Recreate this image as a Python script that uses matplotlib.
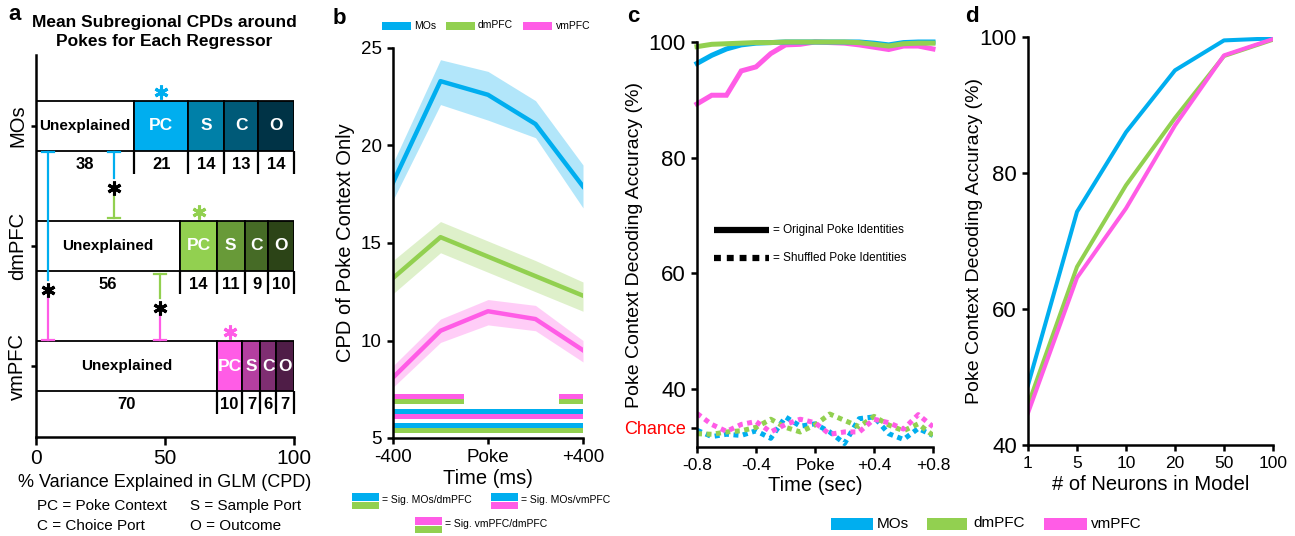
import matplotlib
matplotlib.use("Agg")
from matplotlib import pyplot as plt
from matplotlib.patches import Rectangle

plt.rcParams['font.family'] = ['Liberation Sans', 'DejaVu Sans']

BLUE = '#00AEEF'
GREEN = '#92D050'
PINK = '#FF5CE6'

# ---------------- panel a: mean CPD per regressor ----------------
regions = ['MOs', 'dmPFC', 'vmPFC']
regressors = ['Unexplained', 'PC', 'S', 'C', 'O']
cpd_mos = [38, 21, 14, 13, 14]
cpd_dmpfc = [56, 14, 11, 9, 10]
cpd_vmpfc = [70, 10, 7, 6, 7]
mos_colors = ['white', '#00AEEF', '#0080A8', '#005A78', '#003346']
dmpfc_colors = ['white', '#92D050', '#689A38', '#466B26', '#2C4417']
vmpfc_colors = ['white', '#FF5CE6', '#B43FA0', '#7F2E72', '#4F1D47']

# ---------------- panel b: CPD of poke context over time ----------------
cpd_time = [-400, -200, 0, 200, 400]
mos_cpd = [18.1, 23.3, 22.6, 21.1, 17.9]
mos_cpd_lo = [17.2, 22.1, 21.3, 20.4, 16.8]
mos_cpd_hi = [19.1, 24.4, 23.8, 22.3, 19.0]
dmpfc_cpd = [13.2, 15.3, 14.3, 13.3, 12.3]
dmpfc_cpd_lo = [12.4, 14.5, 13.5, 12.5, 11.5]
dmpfc_cpd_hi = [14.1, 16.1, 15.1, 14.1, 13.0]
vmpfc_cpd = [8.1, 10.5, 11.5, 11.1, 9.5]
vmpfc_cpd_lo = [7.6, 9.9, 10.8, 10.5, 8.9]
vmpfc_cpd_hi = [8.7, 11.1, 12.1, 11.8, 10.0]

# significance stripes (upper colour, lower colour, level, spans)
sig_names = ['vmPFC/dmPFC', 'MOs/vmPFC', 'MOs/dmPFC']
sig_upper = [PINK, BLUE, BLUE]
sig_lower = [GREEN, PINK, GREEN]
sig_level = [7.0, 6.25, 5.5]
sig_spans = [[(-400, -100), (300, 400)], [(-400, 400)], [(-400, 400)]]

# ---------------- panel c: decoding accuracy over time ----------------
dec_time = [-0.8, -0.7, -0.6, -0.5, -0.4, -0.3, -0.2, -0.1, 0.0,
            0.1, 0.2, 0.3, 0.4, 0.5, 0.6, 0.7, 0.8]
mos_acc = [96.3, 97.7, 98.8, 99.5, 99.8, 99.9, 100, 100, 100,
           100, 100, 100, 99.8, 99.5, 99.9, 100, 100]
dmpfc_acc = [99.2, 99.6, 99.7, 99.8, 99.9, 99.9, 100, 100, 100,
             100, 100, 99.9, 99.6, 99.3, 99.7, 99.8, 99.8]
vmpfc_acc = [89.3, 90.8, 90.8, 95.0, 95.7, 98.0, 99.5, 99.6, 100,
             99.9, 99.8, 99.5, 99.1, 98.7, 99.3, 99.3, 98.8]
mos_shuf = [32.9, 31.8, 32.2, 32.0, 32.8, 31.5, 35.2, 33.6, 34.0,
            32.6, 30.6, 34.9, 35.2, 32.3, 31.3, 33.2, 32.0]
dmpfc_shuf = [32.3, 32.2, 32.6, 32.8, 33.4, 34.8, 33.4, 32.6, 33.8,
              35.7, 34.6, 33.5, 35.3, 33.8, 32.8, 34.0, 32.0]
vmpfc_shuf = [35.8, 33.9, 32.7, 33.9, 34.4, 32.6, 33.9, 34.8, 34.2,
              32.2, 32.6, 32.6, 34.8, 34.2, 33.1, 35.6, 33.5]
chance = 100 / 3

# ---------------- panel d: accuracy vs number of neurons ----------------
n_neurons = ['1', '5', '10', '20', '50', '100']
mos_n_acc = [48.8, 74.3, 86.0, 95.1, 99.5, 99.8]
dmpfc_n_acc = [45.9, 66.2, 78.2, 88.1, 97.2, 99.6]
vmpfc_n_acc = [44.7, 64.6, 74.8, 87.0, 97.3, 99.7]

W, H = 1295, 536


def box(x0, x1, y_top, y_bot):
    return [x0 / W, 1 - y_bot / H, (x1 - x0) / W, (y_bot - y_top) / H]


def swatch(x0, x1, y_top, y_bot, color):
    fig.add_artist(Rectangle((x0 / W, 1 - y_bot / H), (x1 - x0) / W, (y_bot - y_top) / H,
                             transform=fig.transFigure, color=color, lw=0))


def ftext(x, y, s, **kw):
    fig.text(x / W, 1 - y / H, s, **kw)


def style_axes(ax):
    for side in ['top', 'right']:
        ax.spines[side].set_visible(False)
    for side in ['left', 'bottom']:
        ax.spines[side].set_linewidth(1.8)
    ax.tick_params(width=1.8, length=4.5, color='black')


fig = plt.figure(figsize=(W / 100, H / 100), dpi=100)

# ================= panel a =================
ax = fig.add_axes(box(36, 294, 55, 437))
style_axes(ax)
ypos = [2.59, 1.59, 0.59]
bh = 0.42
for name, y, vals, cols, rc in zip(regions, ypos, [cpd_mos, cpd_dmpfc, cpd_vmpfc],
                                    [mos_colors, dmpfc_colors, vmpfc_colors],
                                    [BLUE, GREEN, PINK]):
    left = 0
    for reg, v, c in zip(regressors, vals, cols):
        ax.barh(y, v, left=left, height=bh, color=c, edgecolor='black', linewidth=1.3)
        if reg == 'Unexplained':
            ax.text(left + v / 2, y, reg, ha='center', va='center', fontsize=11,
                    fontweight='bold', color='black')
        else:
            ax.text(left + v / 2, y, reg, ha='center', va='center', fontsize=12.5,
                    fontweight='bold', color='white')
        ax.text(left + v / 2, y - bh / 2 - 0.11, str(v), ha='center', va='center',
                fontsize=12, fontweight='bold')
        left += v
        ax.plot([left, left], [y - bh / 2, y - bh / 2 - 0.19], color='black', lw=1.6,
                solid_capstyle='butt', clip_on=False)
    pc_mid = vals[0] + vals[1] / 2
    ax.plot(pc_mid, y + bh / 2 + 0.075, marker=(6, 2, 0), color=rc, ms=10, mew=2.2,
            clip_on=False)


def sig_bracket(x, y_top, y_bot, y_star, c_top, c_bot):
    ax.plot([x, x], [y_top, y_star + 0.08], color=c_top, lw=1.6, zorder=5)
    ax.plot([x - 2.4, x + 2.4], [y_top, y_top], color=c_top, lw=1.6, zorder=5)
    ax.plot([x, x], [y_star - 0.06, y_bot], color=c_bot, lw=1.6, zorder=5)
    ax.plot([x - 2.4, x + 2.4], [y_bot, y_bot], color=c_bot, lw=1.6, zorder=5)
    ax.plot(x, y_star, marker=(6, 2, 0), color='black', ms=10, mew=2.2, zorder=5)


sig_bracket(4.6, ypos[0] - bh / 2 - 0.01, ypos[2] + bh / 2 + 0.01, 1.225, BLUE, PINK)
sig_bracket(30.2, ypos[0] - bh / 2 - 0.01, ypos[1] + bh / 2 + 0.02, 2.075, BLUE, GREEN)
sig_bracket(48.0, ypos[1] - bh / 2 - 0.02, ypos[2] + bh / 2 + 0.01, 1.075, GREEN, PINK)

ax.set_xlim(0, 100)
ax.set_ylim(0, 3.18)
ax.set_xticks([0, 50, 100])
ax.tick_params(axis='x', labelsize=15, length=5.5)
ax.set_yticks(ypos, regions, rotation=90, va='center', fontsize=14.5)
ax.tick_params(axis='y', length=3.5, pad=3)
ax.set_xlabel('% Variance Explained in GLM (CPD)', fontsize=13, labelpad=4)

ftext(164, 32, 'Mean Subregional CPDs around\nPokes for Each Regressor', ha='center',
      va='center', fontsize=12.5, fontweight='bold', linespacing=1.4)
ftext(37, 506, 'PC = Poke Context', fontsize=11, va='center')
ftext(190, 506, 'S = Sample Port', fontsize=11, va='center')
ftext(37, 526, 'C = Choice Port', fontsize=11, va='center')
ftext(190, 526, 'O = Outcome', fontsize=11, va='center')

# ================= panel b =================
ax = fig.add_axes(box(393, 583, 48, 438))
style_axes(ax)
for m, lo, hi, c in [(mos_cpd, mos_cpd_lo, mos_cpd_hi, BLUE),
                     (dmpfc_cpd, dmpfc_cpd_lo, dmpfc_cpd_hi, GREEN),
                     (vmpfc_cpd, vmpfc_cpd_lo, vmpfc_cpd_hi, PINK)]:
    ax.fill_between(cpd_time, lo, hi, color=c, alpha=0.3, lw=0)
    ax.plot(cpd_time, m, color=c, lw=3.2)
stripe = 0.25
for up, lowc, lvl, spans in zip(sig_upper, sig_lower, sig_level, sig_spans):
    bars = [(a, b - a) for a, b in spans]
    ax.broken_barh(bars, (lvl, stripe), facecolors=up)
    ax.broken_barh(bars, (lvl - stripe, stripe), facecolors=lowc)
ax.set_xlim(-400, 400)
ax.set_ylim(5, 25)
ax.set_yticks([5, 10, 15, 20, 25])
ax.set_xticks([-400, 0, 400], ['-400', 'Poke', '+400'])
ax.tick_params(labelsize=13.5)
ax.set_xlabel('Time (ms)', fontsize=14.5, labelpad=2)
ax.set_ylabel('CPD of Poke Context Only', fontsize=14.5)
ax.yaxis.set_label_coords(-0.2, 0.5)

# top legend
swatch(382, 411, 22, 30, BLUE)
ftext(414, 26, 'MOs', fontsize=7.5, va='center')
swatch(446, 475, 22, 30, GREEN)
ftext(478, 25, 'dmPFC', fontsize=7.5, va='center')
swatch(523, 552, 22, 30, PINK)
ftext(556, 26, 'vmPFC', fontsize=7.5, va='center')
# significance legend
swatch(352, 379, 493, 501, BLUE)
swatch(352, 379, 502, 509, GREEN)
ftext(382, 500, '= Sig. MOs/dmPFC', fontsize=7.5, va='center')
swatch(491, 518, 493, 501, BLUE)
swatch(491, 518, 502, 509, PINK)
ftext(521, 500, '= Sig. MOs/vmPFC', fontsize=7.5, va='center')
swatch(415, 442, 517, 525, PINK)
swatch(415, 442, 526, 533, GREEN)
ftext(445, 524, '= Sig. vmPFC/dmPFC', fontsize=7.5, va='center')

# ================= panel c =================
ax = fig.add_axes(box(697, 933, 42, 447))
style_axes(ax)
for acc, c in [(vmpfc_acc, PINK), (mos_acc, BLUE), (dmpfc_acc, GREEN)]:
    ax.plot(dec_time, acc, color=c, lw=3.6, clip_on=False, solid_joinstyle='miter')
for acc, c in [(mos_shuf, BLUE), (dmpfc_shuf, GREEN), (vmpfc_shuf, PINK)]:
    ax.plot(dec_time, acc, color=c, lw=3.6, linestyle=(0, (1, 0.9)),
            dash_capstyle='butt')
ax.plot([0.072, 0.305], [0.536, 0.536], transform=ax.transAxes, color='black', lw=4.5,
        solid_capstyle='butt')
ax.plot([0.072, 0.305], [0.467, 0.467], transform=ax.transAxes, color='black', lw=4.5,
        linestyle=(0, (1.1, 0.95)), dash_capstyle='butt')
ax.text(0.322, 0.536, '= Original Poke Identities', transform=ax.transAxes,
        fontsize=8.5, va='center')
ax.text(0.322, 0.467, '= Shuffled Poke Identities', transform=ax.transAxes,
        fontsize=8.5, va='center')
ax.set_xlim(-0.8, 0.8)
ax.set_ylim(30, 100)
ax.set_yticks([chance, 40, 60, 80, 100], ['Chance', '40', '60', '80', '100'])
ax.set_xticks([-0.8, -0.4, 0, 0.4, 0.8], ['-0.8', '-0.4', 'Poke', '+0.4', '+0.8'])
ax.tick_params(axis='y', labelsize=16)
ax.tick_params(axis='x', labelsize=12.5)
ylabs = ax.get_yticklabels()
ylabs[0].set_color('red')
ylabs[0].set_fontsize(13)
ax.yaxis.get_major_ticks()[0].tick1line.set_color('red')
ax.set_xlabel('Time (sec)', fontsize=14.5, labelpad=2)
ax.set_ylabel('Poke Context Decoding Accuracy (%)', fontsize=14)
ax.yaxis.set_label_coords(-0.229, 0.5)

# ================= panel d =================
ax = fig.add_axes(box(1028, 1273, 37, 445))
style_axes(ax)
xpos = list(range(len(n_neurons)))
ax.plot(xpos, mos_n_acc, color=BLUE, lw=2.9)
ax.plot(xpos, dmpfc_n_acc, color=GREEN, lw=2.9)
ax.plot(xpos, vmpfc_n_acc, color=PINK, lw=2.9)
ax.set_xlim(0, 5)
ax.set_ylim(40, 100)
ax.set_yticks([40, 60, 80, 100])
ax.set_xticks(xpos, n_neurons)
ax.tick_params(axis='y', labelsize=16)
ax.tick_params(axis='x', labelsize=12.5)
ax.set_xlabel('# of Neurons in Model', fontsize=14.5, labelpad=3)
ax.set_ylabel('Poke Context Decoding Accuracy (%)', fontsize=14)
ax.yaxis.set_label_coords(-0.184, 0.5)

# shared legend for c and d
swatch(831, 873, 518, 530, BLUE)
ftext(877, 524, 'MOs', fontsize=11, va='center')
swatch(927, 967, 518, 530, GREEN)
ftext(973, 523, 'dmPFC', fontsize=11, va='center')
swatch(1044, 1087, 518, 530, PINK)
ftext(1091, 524, 'vmPFC', fontsize=11, va='center')

# panel letters
ftext(15, 15, 'a', fontsize=16, fontweight='bold', ha='center', va='center')
ftext(339, 18, 'b', fontsize=16, fontweight='bold', ha='center', va='center')
ftext(633, 17, 'c', fontsize=16, fontweight='bold', ha='center', va='center')
ftext(972, 16, 'd', fontsize=16, fontweight='bold', ha='center', va='center')

fig.savefig('out.png', dpi=100)
